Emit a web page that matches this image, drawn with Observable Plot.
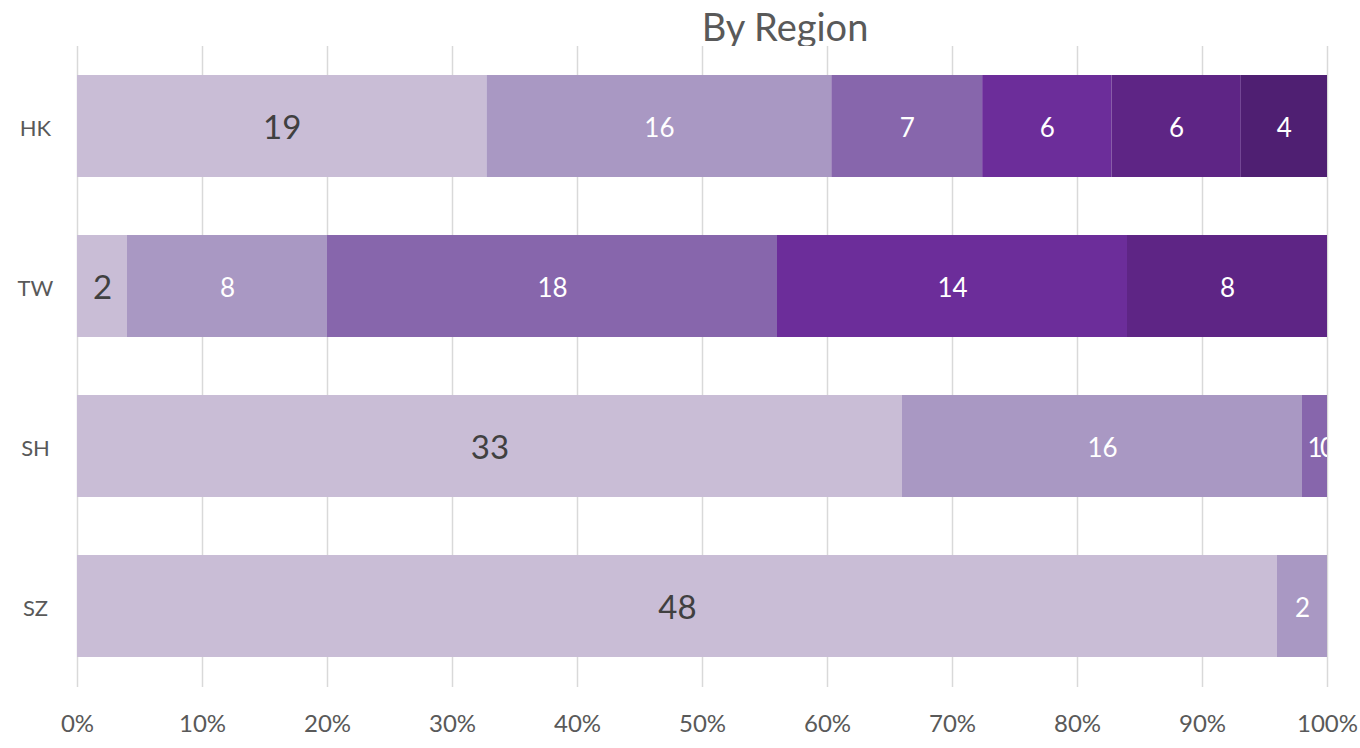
<!DOCTYPE html>
<html>
<head>
<meta charset="utf-8">
<script src="https://cdn.jsdelivr.net/npm/d3@7"></script>
<script src="https://cdn.jsdelivr.net/npm/@observablehq/plot@0.6"></script>
<style>
  html, body { margin: 0; padding: 0; background: #fff; }
  #wrap { position: relative; width: 1360px; height: 748px; font-family: Lato, "Open Sans", sans-serif; }
  #title { position: absolute; left: 0; top: 0; width: 1360px; height: 46px; }
  #title span { position: absolute; left: 785px; top: 26px; transform: translate(-50%, -50%); font-size: 38px; color: #595959; white-space: nowrap; }
  #chart { position: absolute; left: 0; top: 46px; }
</style>
</head>
<body>
<div id="wrap">
  <div id="title"><span>By Region</span></div>
  <div id="chart"></div>
</div>
<script>
const regions = ["HK", "TW", "SH", "SZ"];
const seriesNames = ["S1", "S2", "S3", "S4", "S5", "S6"];
const s1 = [19, 2, 33, 48];
const s2 = [16, 8, 16, 2];
const s3 = [7, 18, 1, null];
const s4 = [6, 14, 0, null];
const s5 = [6, 8, null, null];
const s6 = [4, null, null, null];
const seriesColors = ["#C9BDD6", "#A998C3", "#8766AC", "#6C2D9A", "#5E2585", "#4F1F72"];
const xTicks = [0, 0.1, 0.2, 0.3, 0.4, 0.5, 0.6, 0.7, 0.8, 0.9, 1];

const allSeries = [s1, s2, s3, s4, s5, s6];
const data = [];
allSeries.forEach((arr, si) => {
  arr.forEach((v, ri) => {
    if (v !== null) data.push({region: regions[ri], series: seriesNames[si], value: v, idx: si});
  });
});

const chart = Plot.plot({
  width: 1360,
  height: 702,
  marginLeft: 77,
  marginRight: 33,
  marginTop: 0,
  marginBottom: 61,
  style: {fontFamily: "Lato, 'Open Sans', sans-serif", background: "#fff"},
  x: {domain: [0, 1]},
  y: {domain: regions, paddingInner: 0.36, paddingOuter: 0.18},
  color: {domain: seriesNames, range: seriesColors},
  marks: [
    Plot.ruleX(xTicks, {stroke: "#d9d9d9", strokeWidth: 1.5}),
    Plot.barX(data, Plot.stackX({offset: "normalize", order: null, x: "value", y: "region", z: "series", fill: "series"})),
    Plot.text(data, Plot.stackX({
      offset: "normalize", order: null, x: "value", y: "region", z: "series",
      text: d => String(d.value),
      fill: d => d.idx === 0 ? "#404040" : "#ffffff",
      fontSize: d => d.idx === 0 ? 33 : 26,
      dy: 2,
      clip: "frame"
    })),
    Plot.axisY({tickSize: 0, tickPadding: 42, textAnchor: "middle", fontSize: 22, dy: 2, color: "#595959", label: null}),
    Plot.axisX({ticks: xTicks, tickSize: 0, tickPadding: 27, tickFormat: d3.format(".0%"), fontSize: 24, color: "#595959", label: null})
  ]
});
document.getElementById("chart").appendChild(chart);
</script>
</body>
</html>
